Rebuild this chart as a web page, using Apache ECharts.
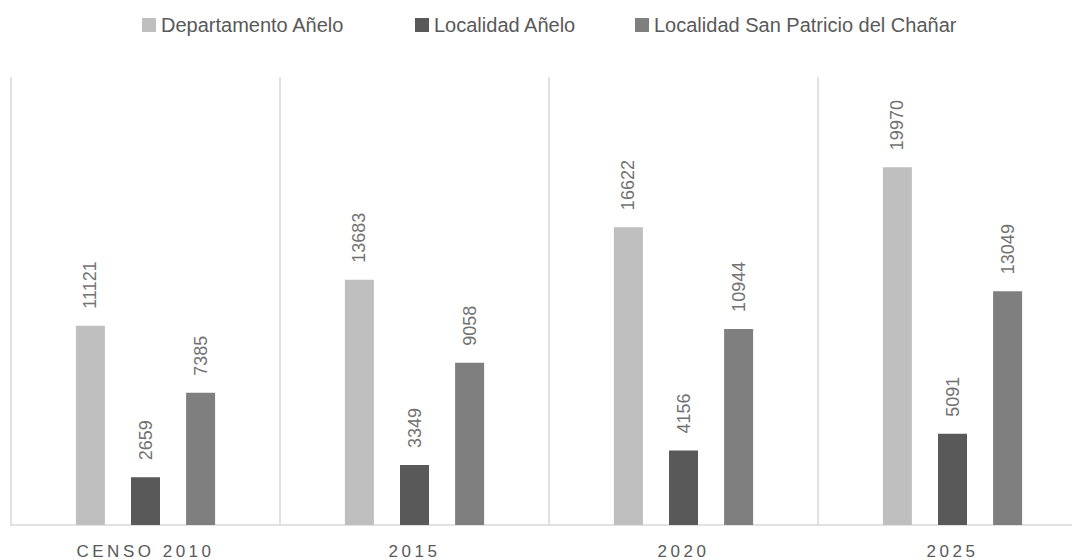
<!DOCTYPE html>
<html>
<head>
<meta charset="utf-8">
<script src="https://cdn.jsdelivr.net/npm/echarts@6/dist/echarts.min.js"></script>
<style>
  html, body { margin: 0; padding: 0; background: #ffffff; overflow: hidden; width: 1072px; height: 560px; }
  #chart { width: 1090px; height: 560px; }
</style>
</head>
<body>
<div id="chart"></div>
<script>
const categories = ['CENSO 2010', '2015', '2020', '2025'];
const seriesNames = ['Departamento Añelo', 'Localidad Añelo', 'Localidad San Patricio del Chañar'];
const departamento = [11121, 13683, 16622, 19970];
const localidadAnelo = [2659, 3349, 4156, 5091];
const sanPatricio = [7385, 9058, 10944, 13049];
const seriesColors = ['#BFBFBF', '#595959', '#7F7F7F'];
const legendLefts = [137, 410, 630];

const chart = echarts.init(document.getElementById('chart'), null, { renderer: 'svg' });

const labelStyle = {
  show: true,
  position: 'top',
  rotate: 90,
  align: 'left',
  verticalAlign: 'middle',
  distance: 17,
  color: '#727272',
  fontFamily: 'Liberation Sans',
  fontSize: 18
};

function makeSeries(name, data, color) {
  return {
    name: name,
    type: 'bar',
    data: data,
    barWidth: 29,
    barGap: '90%',
    itemStyle: { color: color },
    label: labelStyle
  };
}

function makeLegend(name, left) {
  return {
    left: left,
    top: 10,
    icon: 'rect',
    itemWidth: 14,
    itemHeight: 14,
    textStyle: { color: '#595959', fontSize: 20, fontFamily: 'Liberation Sans' },
    data: [name]
  };
}

chart.setOption({
  animation: false,
  backgroundColor: '#ffffff',
  textStyle: { fontFamily: 'Liberation Sans' },
  legend: seriesNames.map(function (n, i) { return makeLegend(n, legendLefts[i]); }),
  grid: { left: 11, top: 77, right: 3, bottom: 35, containLabel: false },
  xAxis: {
    type: 'category',
    data: categories,
    axisLine: { show: true, lineStyle: { color: '#d9d9d9', width: 1.5 } },
    axisTick: { show: false },
    splitLine: { show: true, lineStyle: { color: '#d9d9d9', width: 1.5 } },
    axisLabel: { color: '#595959', fontSize: 17, margin: 18, fontFamily: 'Liberation Sans' }
  },
  yAxis: {
    type: 'value',
    min: 0,
    max: 25000,
    show: false,
    splitLine: { show: false }
  },
  series: [
    makeSeries(seriesNames[0], departamento, seriesColors[0]),
    makeSeries(seriesNames[1], localidadAnelo, seriesColors[1]),
    makeSeries(seriesNames[2], sanPatricio, seriesColors[2])
  ]
});

function spaceAxisLabels() {
  const texts = document.querySelectorAll('#chart svg text');
  texts.forEach(function (t) {
    if (categories.indexOf(t.textContent) >= 0) {
      t.setAttribute('letter-spacing', '3.5');
    }
  });
}
spaceAxisLabels();
chart.on('finished', spaceAxisLabels);
setTimeout(spaceAxisLabels, 50);
</script>
</body>
</html>
